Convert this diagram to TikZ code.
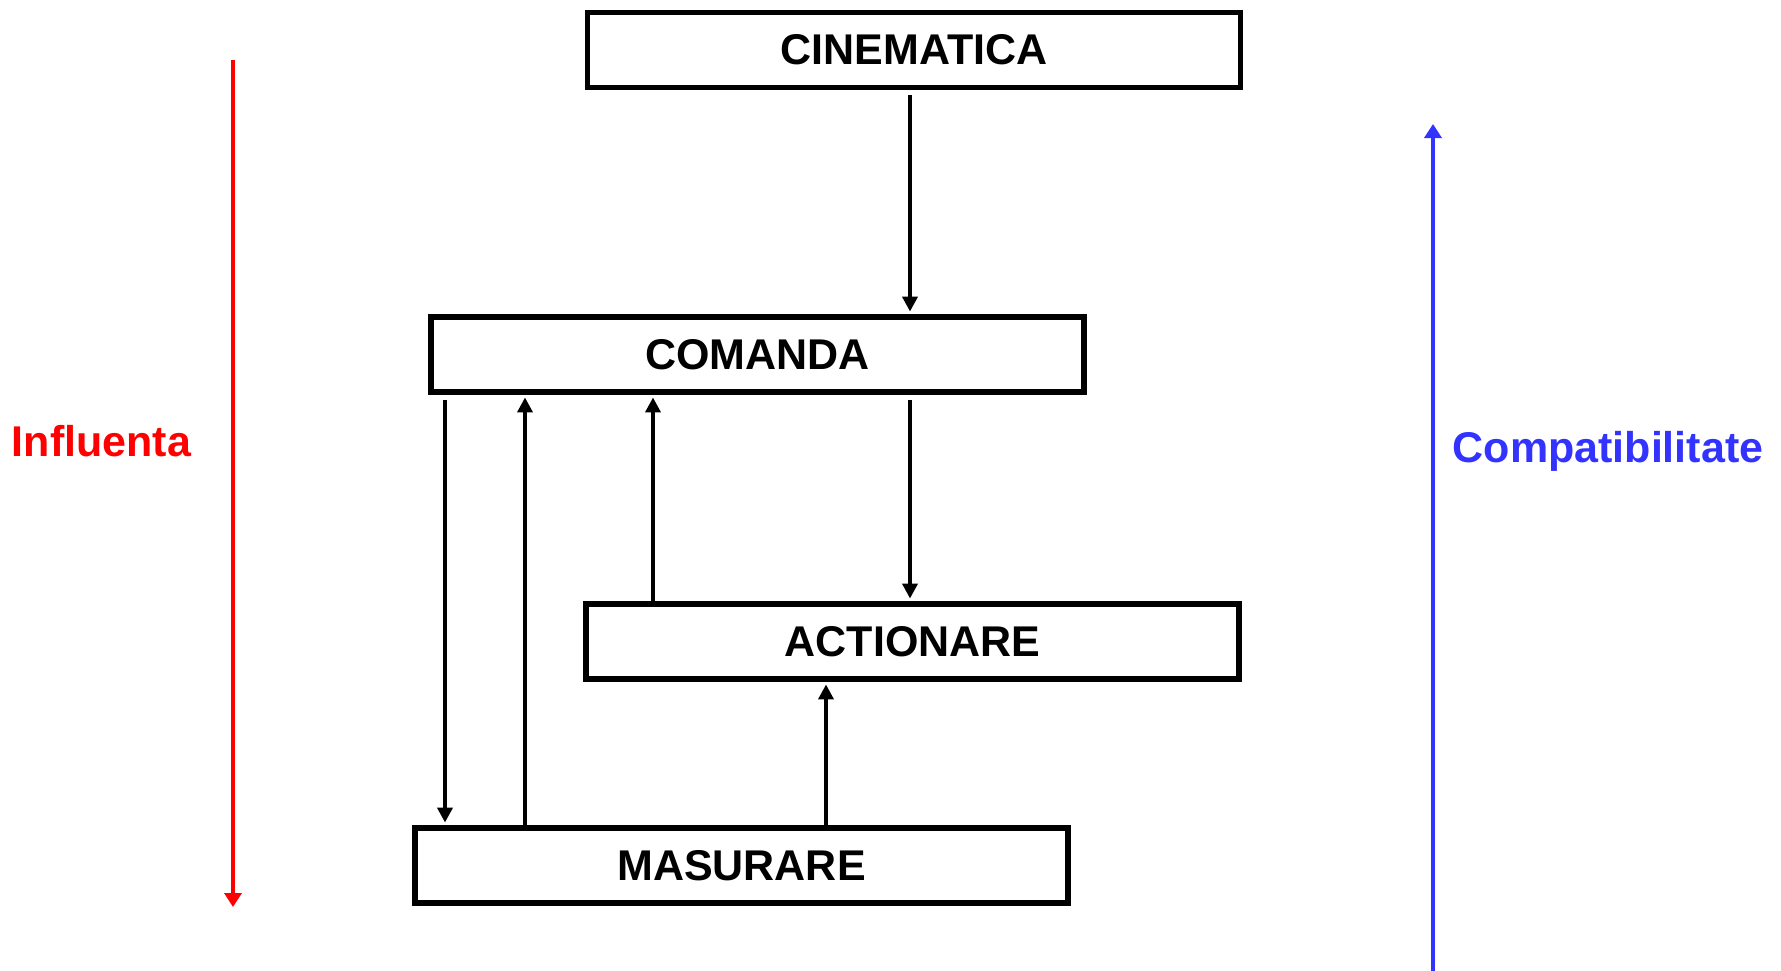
\documentclass[tikz,border=0pt]{standalone}
\usepackage{fontspec}
\setmainfont{Liberation Sans}
\usetikzlibrary{arrows.meta}
\definecolor{infred}{RGB}{255,0,0}
\definecolor{compblue}{RGB}{51,51,255}
\begin{document}
\begin{tikzpicture}[x=1pt,y=-1pt,
  box/.style={draw,line width=5.5pt,minimum width=653pt,minimum height=75pt,inner sep=0pt,
    font=\fontsize{43}{50}\selectfont\bfseries},
  arr/.style={line width=4pt,-{Triangle[width=15pt,length=15pt]},shorten >=2.7pt},
  fromgap/.style={shorten <=5pt},
  sidearr/.style={line width=4.5pt,-{Triangle[width=17pt,length=14pt]}},
  sidelabel/.style={anchor=base,font=\fontsize{43}{50}\selectfont\bfseries,inner sep=0pt}]
\useasboundingbox (0,0) rectangle (1781,970);

\node[box] (cin) at (914,50) {CINEMATICA};
\node[box] (com) at (757.5,354.5) {COMANDA};
\node[box] (act) at (912.5,641.5) {ACTIONARE};
\node[box] (mas) at (741.5,865.5) {MASURARE};

\coordinate (xa) at (910,0);
\coordinate (xb) at (653,0);
\coordinate (xc) at (445,0);
\coordinate (xd) at (525,0);
\coordinate (xe) at (826,0);

\draw[arr,fromgap] (cin.south -| xa) -- (com.north -| xa);
\draw[arr,fromgap] (com.south -| xa) -- (act.north -| xa);
\draw[arr] (act.north -| xb) -- (com.south -| xb);
\draw[arr,fromgap] (com.south -| xc) -- (mas.north -| xc);
\draw[arr] (mas.north -| xd) -- (com.south -| xd);
\draw[arr] (mas.north -| xe) -- (act.south -| xe);

\coordinate (rtop) at (233,60);
\coordinate (rbot) at (233,907);
\draw[sidearr,infred] (rtop) -- (rbot);
\node[sidelabel,text=infred] (infl) at (101.5,456) {Influenta};

\coordinate (bbot) at (1433,972);
\coordinate (btop) at (1433,124);
\draw[sidearr,compblue] (bbot) -- (btop);
\node[sidelabel,text=compblue] (comp) at (1608,462) {Compatibilitate};
\end{tikzpicture}
\end{document}
